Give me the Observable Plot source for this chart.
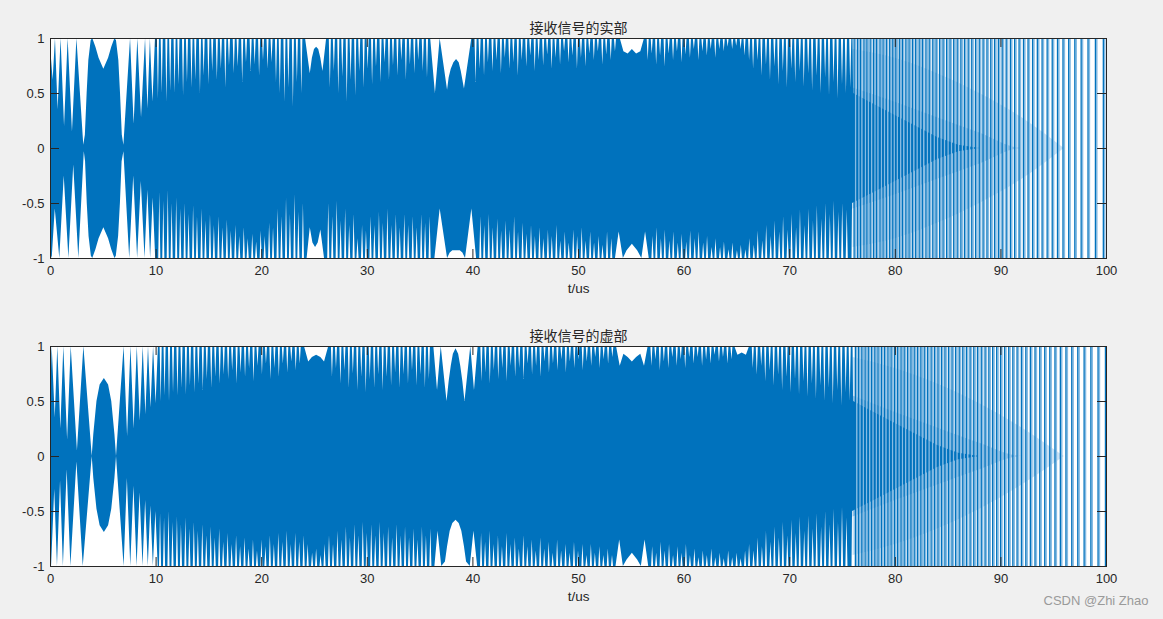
<!DOCTYPE html>
<html><head><meta charset="utf-8">
<script src="https://cdn.jsdelivr.net/npm/d3@7"></script>
<script src="https://cdn.jsdelivr.net/npm/@observablehq/plot@0.6"></script>
<style>
html,body{margin:0;padding:0;background:#f0f0f0;}
#chart{width:1163px;height:619px;overflow:hidden;position:relative}
#chart svg{display:block}
</style></head><body><div id="chart"></div>
<script>
// ---------- axis ticks / labels ----------
const xTicks = [0,10,20,30,40,50,60,70,80,90,100];
const yTicks = [-1,-0.5,0,0.5,1];
const titleRe = "接收信号的实部";
const titleIm = "接收信号的虚部";
const xLabel = "t/us";
const watermark = "CSDN @Zhi Zhao";

const reTopShapeT = [0,0.05,0.25,0.47,0.72,1.0,1.33,1.67,2.08,2.5,3.15,3.3,3.47,3.63,3.85,4.0,4.3,4.6,5.05,5.5,5.8,6.1,6.25,6.47,6.63,6.8,6.95,7.58,7.92,8.27,8.62,9.0,9.23,9.46,9.7,9.94,
  24.15,24.6,24.8,25.0,25.2,25.4,25.6,25.8,26.15,
  36.0,36.45,36.9,37.6,37.75,37.95,38.2,38.45,38.7,38.9,39.05,39.2,39.9,
  53.95,54.3,54.7,55.1,55.5,55.9,56.25,
  76.0,76.05,78,80,82,84,86,88];
const reTopShapeY = [0.86,0.87,0.62,1,0.35,1,0.2,1,0.15,1,0.03,0.12,0.5,0.8,0.98,1,0.92,0.82,0.72,0.82,0.92,1,0.98,0.8,0.5,0.12,0.03,1,0.22,1,0.28,1,0.36,1,0.42,1,
  1,0.68,0.82,0.9,0.92,0.9,0.82,0.7,1,
  1,0.5,1,0.53,0.64,0.72,0.78,0.81,0.78,0.7,0.62,0.54,1,
  1,0.88,0.86,0.9,0.86,0.88,1,
  1,0.5,0.4,0.3,0.2,0.1,0.03,0];
const reTopNotchT = [10.22,10.58,11.02,11.38,11.8,12.16,12.6,12.97,13.4,13.76,14.2,14.55,15.0,15.36,15.8,16.18,16.6,16.95,17.4,17.77,18.2,18.56,19.0,19.38,19.8,20.17,20.6,20.98,21.4,21.76,22.2,22.57,23.0,23.38,23.8,
  26.5,26.88,27.3,27.68,28.1,28.47,28.9,29.28,29.7,30.08,30.5,30.87,31.3,31.68,32.1,32.48,32.9,33.27,33.7,34.08,34.5,34.87,35.3,35.7,
  40.3,40.68,41.1,41.47,41.9,42.28,42.7,43.07,43.5,43.88,44.3,44.67,45.1,45.48,45.9,46.27,46.7,47.08,47.5,47.87,48.3,48.68,49.1,49.47,49.9,50.28,50.7,51.07,51.5,51.88,52.3,52.67,53.1,53.5,
  56.6,56.98,57.4,57.77,58.2,58.58,59.0,59.37,59.8,60.18,60.6,60.97,61.4,61.78,62.2,62.57,63.0,63.38,63.8,64.17,64.6,64.98,65.4,65.77,66.2,66.58,67.0,67.37,67.8,68.18,68.6,68.97,69.4,69.78,70.2,70.57,71.0,71.38,71.8,72.17,72.6,72.98,73.4,73.77,74.2,74.58,75.0,75.37,75.78];
const reTopNotchY = [0.45,0.5,0.42,0.52,0.5,0.58,0.48,0.6,0.55,0.62,0.5,0.66,0.58,0.7,0.62,0.72,0.55,0.75,0.68,0.74,0.6,0.78,0.7,0.76,0.66,0.8,0.72,0.78,0.6,0.5,0.42,0.55,0.38,0.6,0.5,
  0.55,0.7,0.5,0.65,0.42,0.62,0.48,0.7,0.55,0.72,0.58,0.74,0.6,0.78,0.62,0.75,0.66,0.8,0.62,0.76,0.68,0.8,0.7,0.64,
  0.6,0.72,0.66,0.78,0.7,0.8,0.68,0.82,0.72,0.78,0.66,0.8,0.74,0.84,0.7,0.8,0.75,0.85,0.72,0.82,0.76,0.88,0.78,0.84,0.72,0.82,0.74,0.86,0.8,0.88,0.76,0.85,0.8,0.88,
  0.8,0.86,0.76,0.84,0.74,0.86,0.8,0.88,0.78,0.85,0.82,0.9,0.8,0.88,0.84,0.9,0.82,0.9,0.88,0.92,0.9,0.93,0.9,0.84,0.8,0.72,0.8,0.66,0.76,0.62,0.74,0.58,0.7,0.55,0.72,0.6,0.7,0.56,0.68,0.52,0.66,0.5,0.64,0.48,0.6,0.45,0.58,0.5,0.55];

const reBotShapeT = [0,0.16,0.45,0.88,1.3,1.74,2.2,2.68,3.2,3.32,3.48,3.65,3.87,4.0,4.3,4.6,5.05,5.5,5.8,6.1,6.23,6.45,6.62,6.78,6.95,7.5,7.88,8.25,8.6,8.95,9.22,9.48,9.72,9.96,
  24.3,24.6,24.85,25.1,25.35,25.6,25.95,
  36.4,36.9,37.6,37.85,38.1,38.45,38.8,39.05,39.3,39.9,40.35,
  53.5,53.85,54.25,54.6,55.1,55.6,56.0,56.35,56.7,
  75.9,75.95,78,80,82,84,86,88];
const reBotShapeY = [-0.95,-1,-0.55,-1,-0.25,-1,-0.15,-1,-0.03,-0.12,-0.5,-0.8,-0.98,-1,-0.92,-0.82,-0.72,-0.82,-0.92,-1,-0.98,-0.8,-0.5,-0.12,-0.03,-1,-0.25,-1,-0.3,-1,-0.38,-1,-0.45,-1,
  -1,-0.72,-0.86,-0.9,-0.86,-0.74,-1,
  -1,-0.55,-1,-0.95,-0.93,-0.93,-0.93,-0.95,-1,-0.55,-1,
  -1,-0.76,-1,-0.93,-0.87,-0.93,-1,-0.76,-1,
  -1,-0.5,-0.4,-0.3,-0.2,-0.1,-0.03,0];
const reBotNotchT = [10.35,10.73,11.15,11.52,11.95,12.33,12.75,13.12,13.55,13.92,14.35,14.72,15.15,15.52,15.95,16.33,16.75,17.12,17.55,17.92,18.35,18.72,19.15,19.52,19.95,20.33,20.75,21.12,21.55,21.92,22.35,22.72,23.15,23.52,23.95,
  26.35,26.73,27.15,27.52,27.95,28.33,28.75,29.12,29.55,29.92,30.35,30.72,31.15,31.52,31.95,32.33,32.75,33.12,33.55,33.92,34.35,34.72,35.15,35.52,35.95,
  40.75,41.12,41.55,41.92,42.35,42.72,43.15,43.52,43.95,44.32,44.75,45.12,45.55,45.92,46.35,46.72,47.15,47.52,47.95,48.32,48.75,49.12,49.55,49.92,50.35,50.72,51.15,51.52,51.95,52.32,52.75,53.15,
  57.05,57.42,57.85,58.22,58.65,59.02,59.45,59.82,60.25,60.62,61.05,61.42,61.85,62.22,62.65,63.02,63.45,63.82,64.25,64.62,65.05,65.42,65.85,66.22,66.65,67.02,67.45,67.82,68.25,68.62,69.05,69.42,69.85,70.22,70.65,71.02,71.45,71.82,72.25,72.62,73.05,73.42,73.85,74.22,74.65,75.02,75.45];
const reBotNotchY = [-0.4,-0.48,-0.38,-0.5,-0.45,-0.55,-0.5,-0.6,-0.52,-0.62,-0.55,-0.66,-0.6,-0.7,-0.62,-0.72,-0.65,-0.75,-0.7,-0.8,-0.72,-0.82,-0.78,-0.85,-0.75,-0.8,-0.68,-0.72,-0.55,-0.62,-0.45,-0.6,-0.42,-0.58,-0.5,
  -0.5,-0.62,-0.48,-0.66,-0.55,-0.7,-0.6,-0.82,-0.7,-0.75,-0.62,-0.7,-0.58,-0.68,-0.55,-0.7,-0.6,-0.72,-0.6,-0.7,-0.62,-0.72,-0.6,-0.68,-0.62,
  -0.62,-0.7,-0.6,-0.72,-0.64,-0.75,-0.66,-0.74,-0.62,-0.76,-0.68,-0.78,-0.7,-0.8,-0.72,-0.82,-0.74,-0.8,-0.7,-0.84,-0.76,-0.86,-0.74,-0.8,-0.72,-0.84,-0.76,-0.86,-0.8,-0.88,-0.76,-0.82,
  -0.8,-0.72,-0.82,-0.74,-0.84,-0.76,-0.86,-0.78,-0.85,-0.75,-0.82,-0.76,-0.86,-0.8,-0.9,-0.82,-0.9,-0.85,-0.92,-0.86,-0.93,-0.88,-0.92,-0.82,-0.88,-0.75,-0.84,-0.7,-0.8,-0.66,-0.76,-0.62,-0.74,-0.6,-0.72,-0.56,-0.7,-0.55,-0.66,-0.52,-0.64,-0.5,-0.6,-0.48,-0.58,-0.5,-0.56];

const reLineT = [76.1,76.42,76.7,77.03,77.31,77.62,77.94,78.22,78.55,78.84,79.15,79.47,79.76,80.05,80.38,80.67,81.0,81.3,81.62,81.93,82.26,82.56,82.9,83.21,83.55,83.86,84.2,84.52,84.86,85.18,85.53,85.86,86.21,86.55,86.9,87.24,87.6,87.95,88.31,88.68,89.04,89.4,89.76,90.12,90.5,90.9,91.3,91.72,92.14,92.57,93.0,93.45,93.9,94.38,94.86,95.36,95.88,96.42,97.0,97.6,98.25,98.95,99.7];

// ---------- imaginary part ----------
const imTopShapeT = [0,0.16,0.45,0.69,0.98,1.26,1.62,1.96,2.55,3.16,3.95,4.1,4.4,4.7,5.1,5.5,5.8,6.1,6.25,6.97,7.3,7.62,7.92,8.22,8.5,8.78,9.03,9.28,9.52,9.76,10.0,10.22,
  24.05,24.45,24.8,25.2,25.6,25.95,26.35,
  36.3,36.65,37.0,37.55,37.75,37.95,38.15,38.4,38.65,38.85,39.05,39.25,39.8,40.15,40.5,
  53.6,53.95,54.3,54.7,55.1,55.5,55.9,56.25,56.6,
  64.8,65.1,65.5,65.9,66.2,
  76.0,76.05,78,80,82,84,86,88];
const imTopShapeY = [0.45,1,0.35,1,0.25,1,0.15,1,0.05,1,0,0.2,0.5,0.65,0.71,0.65,0.5,0.2,0,1,0.18,1,0.25,1,0.32,1,0.38,1,0.44,1,0.48,1,
  1,0.86,0.9,0.92,0.9,0.86,1,
  1,0.6,1,0.5,0.68,0.82,0.93,0.98,0.93,0.82,0.68,0.5,1,0.6,1,
  1,0.82,0.93,0.9,0.86,0.9,0.93,0.82,1,
  1,0.92,0.94,0.92,1,
  1,0.5,0.4,0.3,0.2,0.1,0.03,0];
const imTopNotchT = [10.48,10.85,11.27,11.65,12.07,12.45,12.87,13.25,13.67,14.05,14.47,14.85,15.27,15.65,16.07,16.45,16.87,17.25,17.67,18.05,18.47,18.85,19.27,19.65,20.07,20.45,20.87,21.25,21.67,22.05,22.47,22.85,23.27,23.65,
  26.7,27.08,27.5,27.88,28.3,28.68,29.1,29.48,29.9,30.28,30.7,31.08,31.5,31.88,32.3,32.68,33.1,33.48,33.9,34.28,34.7,35.08,35.5,35.88,
  40.85,41.23,41.65,42.03,42.45,42.83,43.25,43.63,44.05,44.43,44.85,45.23,45.65,46.03,46.45,46.83,47.25,47.63,48.05,48.43,48.85,49.23,49.65,50.03,50.45,50.83,51.25,51.63,52.05,52.43,52.85,53.25,
  56.95,57.33,57.75,58.13,58.55,58.93,59.35,59.73,60.15,60.53,60.95,61.33,61.75,62.13,62.55,62.93,63.35,63.73,64.15,64.53,
  66.55,66.93,67.35,67.73,68.15,68.53,68.95,69.33,69.75,70.13,70.55,70.93,71.35,71.73,72.15,72.53,72.95,73.33,73.75,74.13,74.55,74.93,75.35,75.73];
const imTopNotchY = [0.5,0.55,0.5,0.58,0.55,0.62,0.56,0.64,0.58,0.66,0.6,0.7,0.62,0.72,0.66,0.74,0.7,0.78,0.66,0.76,0.72,0.8,0.68,0.82,0.74,0.84,0.7,0.8,0.72,0.84,0.76,0.86,0.78,0.84,
  0.72,0.8,0.66,0.78,0.62,0.75,0.6,0.72,0.58,0.7,0.62,0.74,0.6,0.72,0.64,0.76,0.62,0.74,0.66,0.78,0.64,0.74,0.62,0.7,
  0.68,0.76,0.66,0.78,0.7,0.8,0.68,0.82,0.72,0.8,0.7,0.84,0.74,0.82,0.72,0.86,0.76,0.84,0.78,0.88,0.76,0.86,0.8,0.88,0.78,0.86,0.82,0.9,0.8,0.88,0.84,0.9,
  0.82,0.88,0.78,0.86,0.8,0.9,0.82,0.88,0.8,0.9,0.84,0.9,0.82,0.88,0.84,0.92,0.86,0.9,0.84,0.88,
  0.8,0.74,0.82,0.68,0.78,0.64,0.74,0.6,0.72,0.58,0.7,0.56,0.68,0.54,0.66,0.52,0.64,0.5,0.62,0.48,0.6,0.46,0.58,0.5];

const imBotShapeT = [0,0.1,0.4,0.66,0.95,1.22,1.58,1.93,2.5,3.1,3.95,4.1,4.4,4.7,5.1,5.5,5.8,6.1,6.25,6.97,7.28,7.6,7.9,8.2,8.48,8.76,9.01,9.26,9.5,9.74,9.98,10.2,
  36.4,36.7,37.05,37.4,37.6,37.85,38.1,38.4,38.7,38.95,39.2,39.4,39.75,40.1,40.45,
  53.55,53.9,54.25,54.6,55.1,55.6,55.95,56.3,56.65,
  75.9,75.95,78,80,82,84,86,88];
const imBotShapeY = [-0.37,-1,-0.3,-1,-0.22,-1,-0.12,-1,-0.05,-1,0,-0.2,-0.48,-0.63,-0.69,-0.63,-0.48,-0.2,0,-1,-0.2,-1,-0.27,-1,-0.33,-1,-0.4,-1,-0.45,-1,-0.5,-1,
  -1,-0.68,-1,-0.96,-0.82,-0.68,-0.61,-0.58,-0.61,-0.68,-0.82,-0.96,-1,-0.68,-1,
  -1,-0.76,-1,-0.94,-0.88,-0.94,-1,-0.76,-1,
  -1,-0.5,-0.4,-0.3,-0.2,-0.1,-0.03,0];
const imBotNotchT = [10.42,10.8,11.22,11.6,12.02,12.4,12.82,13.2,13.62,14.0,14.42,14.8,15.22,15.6,16.02,16.4,16.82,17.2,17.62,18.0,18.42,18.8,19.22,19.6,20.02,20.4,20.82,21.2,21.62,22.0,22.42,22.8,23.22,23.6,24.02,24.4,24.82,25.2,25.62,26.0,26.42,26.8,27.22,27.6,28.02,28.4,28.82,29.2,29.62,30.0,30.42,30.8,31.22,31.6,32.02,32.4,32.82,33.2,33.62,34.0,34.42,34.8,35.22,35.6,36.02,
  40.82,41.2,41.62,42.0,42.42,42.8,43.22,43.6,44.02,44.4,44.82,45.2,45.62,46.0,46.42,46.8,47.22,47.6,48.02,48.4,48.82,49.2,49.62,50.0,50.42,50.8,51.22,51.6,52.02,52.4,52.82,53.22,
  57.02,57.4,57.82,58.2,58.62,59.0,59.42,59.8,60.22,60.6,61.02,61.4,61.82,62.2,62.62,63.0,63.42,63.8,64.22,64.6,65.02,65.4,65.82,66.2,66.62,67.0,67.42,67.8,68.22,68.6,69.02,69.4,69.82,70.2,70.62,71.0,71.42,71.8,72.22,72.6,73.02,73.4,73.82,74.2,74.62,75.0,75.42];
const imBotNotchY = [-0.52,-0.56,-0.5,-0.6,-0.55,-0.62,-0.56,-0.66,-0.6,-0.68,-0.62,-0.72,-0.64,-0.74,-0.66,-0.78,-0.7,-0.8,-0.72,-0.82,-0.74,-0.84,-0.76,-0.86,-0.76,-0.82,-0.72,-0.8,-0.7,-0.78,-0.68,-0.8,-0.7,-0.78,-0.72,-0.8,-0.88,-0.84,-0.9,-0.8,-0.72,-0.8,-0.68,-0.76,-0.64,-0.74,-0.62,-0.72,-0.6,-0.7,-0.62,-0.72,-0.6,-0.7,-0.64,-0.74,-0.62,-0.72,-0.64,-0.74,-0.66,-0.76,-0.64,-0.72,-0.66,
  -0.7,-0.78,-0.68,-0.8,-0.72,-0.82,-0.7,-0.8,-0.74,-0.84,-0.72,-0.82,-0.76,-0.86,-0.74,-0.84,-0.78,-0.88,-0.76,-0.86,-0.8,-0.88,-0.78,-0.86,-0.8,-0.9,-0.8,-0.88,-0.82,-0.9,-0.84,-0.9,
  -0.82,-0.88,-0.78,-0.86,-0.8,-0.9,-0.82,-0.88,-0.8,-0.9,-0.84,-0.92,-0.86,-0.9,-0.84,-0.92,-0.88,-0.93,-0.86,-0.92,-0.88,-0.93,-0.86,-0.8,-0.86,-0.74,-0.82,-0.68,-0.78,-0.64,-0.74,-0.6,-0.72,-0.58,-0.7,-0.55,-0.68,-0.54,-0.66,-0.52,-0.64,-0.5,-0.62,-0.48,-0.6,-0.46,-0.56];

const imLineT = [76.22,76.52,76.83,77.14,77.44,77.75,78.06,78.36,78.68,78.98,79.3,79.6,79.92,80.22,80.54,80.84,81.16,81.48,81.79,82.1,82.42,82.74,83.06,83.39,83.71,84.04,84.37,84.7,85.04,85.37,85.71,86.05,86.39,86.73,87.08,87.43,87.78,88.14,88.5,88.86,89.22,89.6,89.97,90.35,90.74,91.13,91.53,91.94,92.36,92.79,93.23,93.68,94.15,94.63,95.12,95.63,96.16,96.71,97.28,97.88,98.52,99.2,99.9];

// light haze between strokes in the fading zone (two layers: wide/pale and narrow/denser)
const hazeT = [76,80,84,88,92,96];
const reHazeOuter = [0.9,0.82,0.68,0.5,0.28,0];
const reHazeInner = [0.55,0.42,0.28,0.14,0,0];
const imHazeOuter = [0.9,0.8,0.66,0.48,0.26,0];
const imHazeInner = [0.55,0.4,0.26,0.12,0,0];

// ---------- build ----------
const BLUE = "#0072BD", LIGHT = "#86bbe3", INK = "#262626";
const NOTCH_W = 0.1;
function edge(shT, shY, nT, nY, lim) {
  const pts = shT.map((t, i) => ({t, y: shY[i]}));
  nT.forEach((t, i) => pts.push({t: t - NOTCH_W, y: lim}, {t, y: nY[i]}, {t: t + NOTCH_W, y: lim}));
  pts.sort((a, b) => a.t - b.t);
  return pts;
}

function panel(title, top, bot, lines, hazeOuter, hazeInner, height, marginBottom, extraMarks) {
  const haze = hazeT.map((t, i) => ({t, o: hazeOuter[i], n: hazeInner[i]}));
  const innerH = 220, innerW = 1056, tk = 9;
  return Plot.plot({
    width: 1163, height,
    marginLeft: 50, marginRight: 57, marginTop: 38, marginBottom,
    x: {domain: [0, 100], axis: null, label: null},
    y: {domain: [-1, 1], axis: null, label: null},
    style: {background: "transparent", fontFamily: "'Liberation Sans', Arial, sans-serif", fontSize: "13px", color: INK, overflow: "visible"},
    marks: [
      Plot.frame({fill: "white"}),
      Plot.areaY(haze, {x: "t", y1: d => -d.o, y2: "o", fill: "#8cc0e8", fillOpacity: 0.45, curve: "monotone-x", clip: true}),
      Plot.areaY(haze, {x: "t", y1: d => -d.n, y2: "n", fill: "#4a96d2", fillOpacity: 0.45, curve: "monotone-x", clip: true}),
      Plot.areaY(top, {x: "t", y1: 0, y2: "y", fill: BLUE, clip: true}),
      Plot.areaY(bot, {x: "t", y1: "y", y2: 0, fill: BLUE, clip: true}),
      Plot.ruleX(lines, {x: d => d, y1: -1, y2: 1, stroke: LIGHT, strokeWidth: 1.5, dx: 1.4, clip: true}),
      Plot.ruleX(lines, {x: d => d, y1: -1, y2: 1, stroke: BLUE, strokeWidth: 1.3, clip: true}),
      Plot.tickX(xTicks, {x: d => d, stroke: INK, insetTop: innerH - tk}),
      Plot.tickX(xTicks, {x: d => d, stroke: INK, insetBottom: innerH - tk}),
      Plot.tickY(yTicks, {y: d => d, stroke: INK, insetRight: innerW - tk}),
      Plot.tickY(yTicks, {y: d => d, stroke: INK, insetLeft: innerW - tk}),
      Plot.frame({stroke: INK}),
      Plot.axisX({ticks: xTicks, tickSize: 0, tickPadding: 7, tickFormat: d => String(d), label: null, fill: INK}),
      Plot.axisY({ticks: yTicks, tickSize: 0, tickPadding: 6, tickFormat: d => String(d), label: null, fill: INK}),
      Plot.text([title], {frameAnchor: "top", dy: -15, text: d => d, fontFamily: "'Noto Sans CJK SC', sans-serif", fontSize: 14, fill: INK}),
      Plot.text([xLabel], {frameAnchor: "bottom", dy: 34, text: d => d, fontSize: 13.5, fill: INK}),
      ...extraMarks
    ]
  });
}

const reTop = edge(reTopShapeT, reTopShapeY, reTopNotchT, reTopNotchY, 1);
const reBot = edge(reBotShapeT, reBotShapeY, reBotNotchT, reBotNotchY, -1);
const imTop = edge(imTopShapeT, imTopShapeY, imTopNotchT, imTopNotchY, 1);
const imBot = edge(imBotShapeT, imBotShapeY, imBotNotchT, imBotNotchY, -1);

const root = document.getElementById("chart");
root.append(panel(titleRe, reTop, reBot, reLineT, reHazeOuter, reHazeInner, 308, 50, []));
root.append(panel(titleIm, imTop, imBot, imLineT, imHazeOuter, imHazeInner, 311, 53, [
  Plot.text([watermark], {frameAnchor: "bottom-right", dx: 42, dy: 38, text: d => d, textAnchor: "end", fontSize: 13, fill: "#9a9a9a"})
]));
</script></body></html>
